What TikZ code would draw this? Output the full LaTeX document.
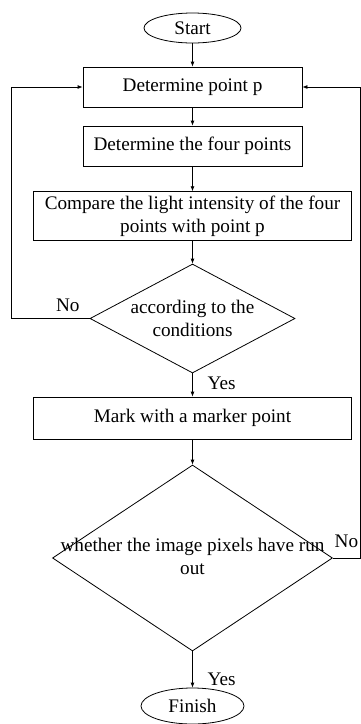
\documentclass[tikz,border=0pt]{standalone}
\usepackage{fontspec}
\setmainfont{Liberation Serif}
\usetikzlibrary{shapes.geometric, positioning, arrows.meta}

\begin{document}
\begin{tikzpicture}[
	x=0.5pt,
	y=-0.5pt,
	node distance=29.5pt,
	on grid,
	font=\fontsize{9.6}{11.5}\selectfont,
	terminal/.style={
		draw,
		ellipse,
		minimum width=51.5pt,
		minimum height=18pt,
		inner sep=1pt
	},
	process/.style={
		draw,
		rectangle,
		minimum width=109.5pt,
		minimum height=20pt,
		inner ysep=2pt,
		align=center
	},
	decision/.style={
		draw,
		diamond,
		inner sep=0pt,
		align=center
	},
	flow/.style={
		->,
		>={Latex[length=2.5pt, width=2pt]},
		thin
	}
	]
	\useasboundingbox (0,0) rectangle (360,724);
	
	% Nodes
	\node[terminal, minimum width=48.5pt, minimum height=15pt] (start) at (192.5,28) {Start};
	\node[process] (point) [below=of start] {Determine point p};
	\node[process] (four) [below=of point] {Determine the four points};
	\node[process, minimum width=159pt, minimum height=24pt] (compare) [below=35pt of four] {Compare the light intensity of the four\\points with point p};
	\node[decision, shape aspect=2, minimum width=102.5pt, minimum height=54.5pt] (cond) [below=51.25pt of compare] {according to the\\conditions};
	\node[process, minimum width=159pt, minimum height=21pt] (mark) [below=49.75pt of cond] {Mark with a marker point};
	\node[decision, minimum width=140pt, minimum height=93pt] (pixels) [below=70pt of mark] {\makebox[0pt]{\begin{tabular}{@{}c@{}}whether the image pixels have run\\out\end{tabular}}};
	\node[terminal] (finish) [below=74pt of pixels] {Finish};
	
	% Connections
	\draw[flow] (start) -- (point);
	\draw[flow] (point) -- (four);
	\draw[flow] (four) -- (compare);
	\draw[flow] (compare) -- (cond);
	\draw[flow] (cond) -- node[right, pos=0.42, xshift=4pt] {Yes} (mark);
	\draw[flow] (mark) -- (pixels);
	\draw[flow] (pixels) -- node[right, pos=0.76, xshift=4pt] {Yes} (finish);
	\draw[flow] (cond.west) -- node[above, pos=0.28] {No} ++(-39pt,0) |- (point.west);
	\draw[flow] (pixels.east) -- node[above, yshift=1.5pt] {No} ++(13.5pt,0) |- (point.east);
\end{tikzpicture}
\end{document}
